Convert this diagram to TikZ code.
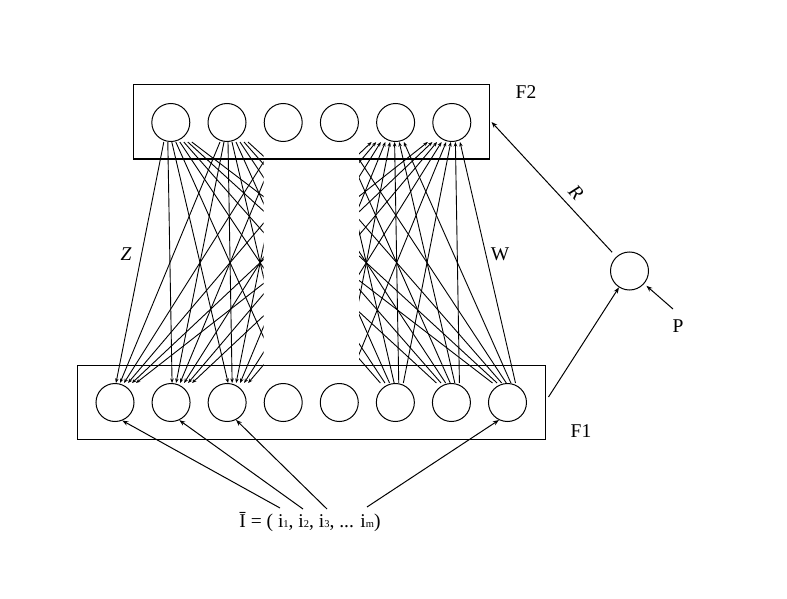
\documentclass[tikz,border=0pt]{standalone}
\usepackage{fontspec}
\setmainfont{Liberation Serif}
\usetikzlibrary{arrows.meta,calc}
\newcommand{\smallsub}[1]{{\fontsize{10.5}{11}\selectfont #1}}
\begin{document}
\begin{tikzpicture}[x=1pt,y=-1pt,line width=1pt,
  neuron/.style={circle,draw,minimum size=38pt,inner sep=0pt},
  layer/.style={draw,rectangle,inner sep=0pt},
  lbl/.style={font=\fontsize{19.5}{22}\selectfont},
  lbli/.style={font=\fontsize{19.5}{22}\selectfont\itshape},
  tip/.style={-{Stealth[length=4.5pt,width=3.5pt]}},
  arr/.style={-{Stealth[length=6pt,width=4.5pt]}},
  fan/.style={line width=0.9pt}]
\useasboundingbox (0,0) rectangle (787,599);
% layers
\node[layer,minimum width=356pt,minimum height=74pt] (box2) at (311,122) {};
\node[layer,minimum width=468pt,minimum height=74pt] (box1) at (311,402) {};
\foreach \j/\x in {1/170.8,2/227,3/283.2,4/339.4,5/395.6,6/451.8}
  \node[neuron] (b\j) at (\x,122.5) {};
\foreach \i in {1,...,8}
  \node[neuron] (a\i) at ({115+56.07*(\i-1)},402.5) {};
% Z connections
\begin{scope}
\clip (0,0) rectangle (263.5,599);
\foreach \j in {1,...,6}{
  \foreach \i in {1,...,8}{
    \pgfmathsetmacro\so{-7+4*(\i-1)}
    \pgfmathsetmacro\eo{1+4*(\j-1)}
    \draw[fan,tip] ([xshift=\so pt]b\j.south) -- ([xshift=\eo pt]a\i.north);
  }}
\end{scope}
% W connections
\begin{scope}
\clip (359,0) rectangle (787,599);
\foreach \i in {1,...,8}{
  \foreach \j in {1,...,6}{
    \pgfmathsetmacro\so{-15+4.6*(\j-1)}
    \pgfmathsetmacro\eo{-24+4.6*(\i-1)}
    \draw[fan,tip] ([xshift=\so pt]a\i.north) -- ([xshift=\eo pt]b\j.south);
  }}
\end{scope}
% labels
\node[lbl] (f2) at (526,92) {F2};
\node[lbl] (f1) at (581,431) {F1};
\node[lbli] (z) at (126,254) {Z};
\node[lbl] (w) at (500,254) {W};
% side unit
\node[neuron] (s) at (629.5,271) {};
\draw[arr] ([xshift=3pt,yshift=5pt]box1.east) -- (s);
\draw[arr,shorten <=6pt] (s) -- ([xshift=2pt]box2.east);
\node[lbli,rotate=-47] (r) at (576,193) {R};
\node[lbl] (p) at (678,326) {P};
\coordinate (pc) at (673,309);
\draw[arr,shorten >=3pt] (pc) -- (s);
% input vector
\node[lbl] (ivec) at (310,522) {\={I} = ( i\smallsub{1}, i\smallsub{2}, i\smallsub{3}, ... i\smallsub{m})};
\coordinate (s1) at (280,508);
\coordinate (s2) at (303,509);
\coordinate (s3) at (327,509);
\coordinate (s4) at (367,507);
\draw[arr] (s1) -- (a1.292);
\draw[arr] (s2) -- (a2.295);
\draw[arr] (s3) -- (a3.297);
\draw[arr] (s4) -- (a8.244);
\end{tikzpicture}
\end{document}
